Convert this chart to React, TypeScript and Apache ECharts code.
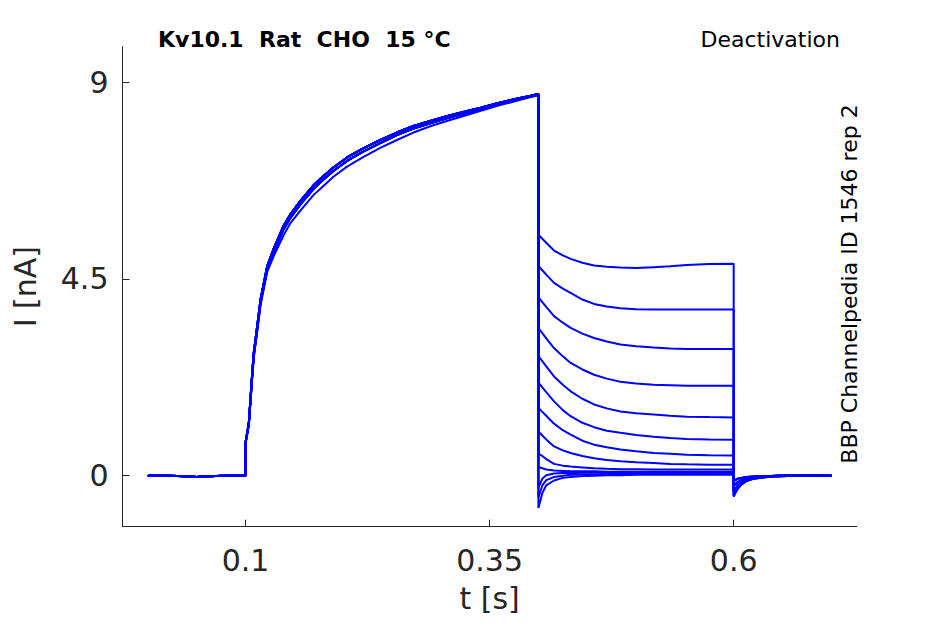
import React, { useEffect, useRef } from "react";
import * as echarts from "echarts";

// ---- data ----
const xTicks = [0.1, 0.35, 0.6];
const yTicks = [0, 4.5, 9];

const baseT = [0, 0.02, 0.04, 0.05, 0.06, 0.08, 0.1];
const baseI = [0, 0, -0.01, -0.03, -0.01, 0, 0];

const actT = [0.1, 0.1034, 0.1069, 0.1085, 0.112, 0.1154, 0.1188, 0.1222, 0.129, 0.139, 0.146, 0.156, 0.17, 0.177, 0.19, 0.204, 0.22, 0.238, 0.255, 0.272, 0.29, 0.307, 0.325, 0.341, 0.358, 0.375, 0.39, 0.4];
const actUpper = [0.75, 1.21, 2.36, 2.82, 3.42, 4.03, 4.41, 4.79, 5.2, 5.72, 5.98, 6.28, 6.65, 6.8, 7.05, 7.28, 7.48, 7.68, 7.85, 8.0, 8.12, 8.23, 8.33, 8.42, 8.52, 8.61, 8.68, 8.73];
const actMid = [0.75, 1.18, 2.3, 2.76, 3.36, 3.96, 4.34, 4.72, 5.12, 5.64, 5.9, 6.2, 6.57, 6.72, 6.97, 7.2, 7.41, 7.61, 7.79, 7.94, 8.07, 8.18, 8.29, 8.39, 8.49, 8.58, 8.66, 8.72];
const actLower = [0.72, 1.15, 2.25, 2.7, 3.3, 3.9, 4.28, 4.66, 5.03, 5.5, 5.78, 6.06, 6.43, 6.57, 6.84, 7.07, 7.28, 7.5, 7.68, 7.85, 8.0, 8.12, 8.24, 8.35, 8.46, 8.56, 8.65, 8.7];

const tailT = [0.4, 0.4005, 0.404, 0.408, 0.416, 0.425, 0.433, 0.445, 0.457, 0.47, 0.484, 0.5, 0.518, 0.535, 0.552, 0.575, 0.6];
const tail1 = [5.52, 5.5, 5.42, 5.33, 5.15, 5.04, 4.96, 4.87, 4.81, 4.78, 4.76, 4.75, 4.77, 4.79, 4.82, 4.84, 4.85];
const tail2 = [4.82, 4.79, 4.7, 4.6, 4.41, 4.28, 4.18, 4.03, 3.93, 3.87, 3.83, 3.81, 3.8, 3.8, 3.8, 3.8, 3.8];
const tail3 = [4.1, 4.07, 3.97, 3.86, 3.65, 3.5, 3.38, 3.25, 3.15, 3.07, 3.0, 2.96, 2.93, 2.91, 2.9, 2.9, 2.9];
const tail4 = [3.39, 3.36, 3.26, 3.14, 2.92, 2.73, 2.58, 2.43, 2.31, 2.22, 2.15, 2.11, 2.08, 2.07, 2.06, 2.06, 2.06];
const tail5 = [2.75, 2.72, 2.62, 2.5, 2.27, 2.08, 1.93, 1.76, 1.63, 1.54, 1.47, 1.43, 1.4, 1.37, 1.35, 1.34, 1.33];
const tail6 = [2.15, 2.12, 2.02, 1.91, 1.7, 1.5, 1.36, 1.21, 1.11, 1.03, 0.98, 0.93, 0.89, 0.86, 0.84, 0.83, 0.82];
const tail7 = [1.56, 1.54, 1.46, 1.37, 1.19, 1.04, 0.94, 0.8, 0.71, 0.65, 0.6, 0.56, 0.52, 0.5, 0.48, 0.47, 0.46];
const tail8 = [1.03, 1.0, 0.92, 0.83, 0.67, 0.58, 0.52, 0.45, 0.4, 0.36, 0.33, 0.31, 0.29, 0.27, 0.26, 0.25, 0.25];
const tail9 = [0.52, 0.5, 0.45, 0.38, 0.27, 0.23, 0.21, 0.19, 0.17, 0.16, 0.15, 0.15, 0.14, 0.14, 0.14, 0.14, 0.14];
const tail10 = [0.2, 0.2, 0.17, 0.14, 0.12, 0.11, 0.1, 0.1, 0.1, 0.09, 0.09, 0.09, 0.09, 0.09, 0.09, 0.09, 0.09];
const tail11 = [-0.27, -0.25, -0.07, 0.01, 0.05, 0.06, 0.06, 0.07, 0.07, 0.07, 0.07, 0.07, 0.06, 0.06, 0.06, 0.06, 0.06];
const tail12 = [-0.5, -0.47, -0.22, -0.1, -0.03, 0.0, 0.02, 0.03, 0.03, 0.04, 0.04, 0.04, 0.04, 0.04, 0.04, 0.04, 0.04];
const tail13 = [-0.74, -0.7, -0.4, -0.22, -0.11, -0.05, -0.03, -0.01, 0.0, 0.01, 0.01, 0.02, 0.02, 0.02, 0.02, 0.02, 0.02];

const postT = [0.6, 0.6015, 0.604, 0.608, 0.613, 0.62, 0.63, 0.645, 0.665, 0.7];
const postA = [-0.47, -0.4, -0.3, -0.2, -0.12, -0.07, -0.04, -0.01, 0, 0];
const postB = [-0.36, -0.31, -0.23, -0.15, -0.09, -0.05, -0.03, -0.01, 0, 0];
const postC = [-0.24, -0.2, -0.15, -0.1, -0.06, -0.03, -0.02, 0, 0, 0];
const postD = [-0.12, -0.1, -0.07, -0.05, -0.03, -0.02, -0.01, 0, 0.01, 0];

const sweepTails = [tail1, tail2, tail3, tail4, tail5, tail6, tail7, tail8, tail9, tail10, tail11, tail12, tail13];
const sweepActs = [actUpper, actMid, actUpper, actMid, actUpper, actUpper, actLower, actMid, actUpper, actMid, actUpper, actMid, actUpper];
const sweepPosts = [postA, postB, postC, postA, postB, postC, postD, postB, postC, postD, postC, postD, postA];

const titleText = "Kv10.1  Rat  CHO  15 °C";
const protocolText = "Deactivation";
const sideText = "BBP Channelpedia ID 1546 rep 2";

function buildSweep(act: number[], tail: number[], post: number[]) {
  const pts: number[][] = [];
  baseT.forEach((t, i) => pts.push([t, baseI[i]]));
  actT.forEach((t, i) => pts.push([t, act[i]]));
  tailT.forEach((t, i) => pts.push([t, tail[i]]));
  postT.forEach((t, i) => pts.push([t, post[i]]));
  return pts;
}

const FONT = "DejaVu Sans";
const AX = "#262626";

export default function App() {
  const ref = useRef<HTMLDivElement>(null);
  useEffect(() => {
    document.body.style.margin = "0";
    const chart = echarts.init(ref.current!, null, { renderer: "svg" });
    const series = sweepTails.map((tail, k) => ({
      type: "line",
      data: buildSweep(sweepActs[k], tail, sweepPosts[k]),
      showSymbol: false,
      symbol: "none",
      lineStyle: { color: "#0000ff", width: 2 },
      silent: true,
    }));
    chart.setOption({
      animation: false,
      grid: { left: 122.5, top: 46.7, right: 88.3, bottom: 97.3, containLabel: false },
      xAxis: {
        type: "value",
        min: -0.026,
        max: 0.726,
        name: "t [s]",
        nameLocation: "middle",
        nameGap: 57,
        nameTextStyle: { fontFamily: FONT, fontSize: 30, color: AX },
        axisLine: { show: true, onZero: false, lineStyle: { color: AX, width: 1 } },
        axisTick: { show: true, inside: true, length: 7, customValues: xTicks, lineStyle: { color: AX } },
        axisLabel: { customValues: xTicks, fontFamily: FONT, fontSize: 30, color: AX, margin: 19 },
        splitLine: { show: false },
      },
      yAxis: {
        type: "value",
        min: -1.167,
        max: 9.814,
        name: "I [nA]",
        nameLocation: "middle",
        nameGap: 82,
        nameRotate: 90,
        nameTextStyle: { fontFamily: FONT, fontSize: 30, color: AX },
        axisLine: { show: true, onZero: false, lineStyle: { color: AX, width: 1 } },
        axisTick: { show: true, inside: true, length: 7, customValues: yTicks, lineStyle: { color: AX } },
        axisLabel: { customValues: yTicks, fontFamily: FONT, fontSize: 30, color: AX, margin: 14 },
        splitLine: { show: false },
      },
      graphic: [
        {
          type: "text",
          x: 158,
          y: 39,
          style: { text: titleText, fontFamily: FONT, fontSize: 22, fontWeight: "bold", fill: "#000", textAlign: "left", textVerticalAlign: "middle" },
        },
        {
          type: "text",
          x: 840,
          y: 39,
          style: { text: protocolText, fontFamily: FONT, fontSize: 22, fill: "#000", textAlign: "right", textVerticalAlign: "middle" },
        },
        {
          type: "text",
          x: 849,
          y: 284,
          rotation: Math.PI / 2,
          style: { text: sideText, fontFamily: FONT, fontSize: 22, fill: "#000", textAlign: "center", textVerticalAlign: "middle" },
        },
      ],
      series,
    });
    return () => chart.dispose();
  }, []);
  return <div ref={ref} style={{ width: 945, height: 624 }} />;
}
